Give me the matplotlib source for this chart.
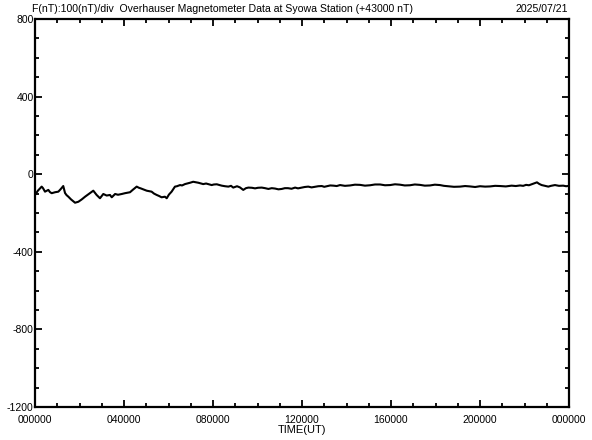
import matplotlib
matplotlib.use("Agg")
import matplotlib.pyplot as plt
from matplotlib.ticker import MultipleLocator

# time in hours (UT) and F minus 43000 nT
hours = [
    0.00, 0.13, 0.30, 0.36, 0.45, 0.60, 0.67, 0.75, 0.90, 1.05, 1.17, 1.27,
    1.35, 1.42, 1.50, 1.62, 1.80, 1.95, 2.10, 2.25, 2.38, 2.47, 2.62, 2.77,
    2.92, 3.07, 3.22, 3.37, 3.45, 3.60, 3.73, 3.90, 4.04, 4.27, 4.40, 4.57,
    4.67, 4.75, 5.02, 5.24, 5.35, 5.47, 5.57, 5.69, 5.84, 5.92, 6.02, 6.14,
    6.29, 6.38, 6.52, 6.61, 6.74, 6.88, 6.97, 7.11, 7.24, 7.34, 7.46, 7.56,
    7.69, 7.79, 7.94, 8.04, 8.17, 8.39, 8.54, 8.69, 8.81, 8.91, 9.08, 9.21,
    9.36, 9.48, 9.59, 9.75, 9.89, 10.02, 10.19, 10.34, 10.49, 10.64, 10.79,
    10.94, 11.09, 11.23, 11.37, 11.53, 11.69, 11.82, 11.96, 12.12, 12.28,
    12.43, 12.58, 12.73, 12.89, 13.00, 13.12, 13.27, 13.41, 13.56, 13.71,
    13.93, 14.16, 14.38, 14.61, 14.83, 15.06, 15.28, 15.51, 15.73, 15.96,
    16.18, 16.40, 16.62, 16.85, 17.07, 17.30, 17.52, 17.75, 17.97, 18.20,
    18.38, 18.56, 18.83, 19.10, 19.33, 19.55, 19.78, 20.00, 20.23, 20.45,
    20.68, 20.90, 21.16, 21.42, 21.61, 21.80, 21.94, 22.07, 22.20, 22.32,
    22.43, 22.56, 22.66, 22.77, 22.92, 23.07, 23.19, 23.37, 23.55, 23.74,
    23.87, 24.00,
]
field = [
    -107, -85, -64, -72, -90, -81, -92, -98, -93, -90, -75, -61,
    -97, -108, -116, -130, -147, -142, -130, -116, -105, -98, -85, -107,
    -124, -102, -110, -107, -119, -102, -106, -102, -98, -93, -80, -64,
    -70, -73, -85, -90, -100, -107, -112, -119, -116, -124, -105, -90,
    -64, -62, -56, -58, -51, -47, -44, -39, -42, -44, -48, -51,
    -48, -51, -56, -53, -52, -59, -62, -64, -60, -69, -62, -68,
    -81, -72, -69, -70, -73, -70, -69, -72, -76, -72, -74,
    -78, -76, -72, -72, -75, -69, -73, -70, -66, -64,
    -68, -65, -62, -61, -65, -62, -58, -59, -61, -56,
    -60, -58, -54, -55, -59, -57, -53, -53, -57, -56,
    -52, -54, -58, -57, -53, -55, -59, -58, -54, -56,
    -60, -62, -65, -64, -61, -63, -66, -62, -64, -63,
    -60, -61, -63, -59, -61, -58, -60, -55, -57, -52,
    -47, -42, -50, -56, -60, -64, -60, -56, -60, -59,
    -62, -60,
]

x_ticks = [0, 4, 8, 12, 16, 20, 24]
x_labels = ["000000", "040000", "080000", "120000", "160000", "200000", "000000"]
y_ticks = [-1200, -800, -400, 0, 400, 800]

font = ["Liberation Sans", "DejaVu Sans"]

fig = plt.figure(figsize=(5.92, 4.40), dpi=100)
ax = fig.add_axes([35 / 592, 33 / 440, 534 / 592, 388 / 440])

ax.plot(hours, field, color="black", linewidth=1.5)

ax.set_xlim(0, 24)
ax.set_ylim(-1200, 800)
ax.set_xticks(x_ticks)
ax.set_xticklabels(x_labels, fontsize=7.5, family=font)
ax.set_yticks(y_ticks)
ax.set_yticklabels([str(v) for v in y_ticks], fontsize=7.5, family=font)
ax.xaxis.set_minor_locator(MultipleLocator(1))
ax.yaxis.set_minor_locator(MultipleLocator(100))

ax.tick_params(which="both", direction="in", top=True, right=True,
               width=1.3, colors="black")
ax.tick_params(which="major", length=5)
ax.tick_params(which="minor", length=3)
ax.tick_params(axis="x", pad=6)
ax.tick_params(axis="y", pad=1)

for s in ax.spines.values():
    s.set_linewidth(1.6)

ax.set_xlabel("TIME(UT)", fontsize=8, family=font, labelpad=0)

fig.text(32 / 592, 1 - 9 / 440,
         "F(nT):100(nT)/div  Overhauser Magnetometer Data at Syowa Station (+43000 nT)",
         fontsize=7.6, family=font, va="center", ha="left")
fig.text(568 / 592, 1 - 9 / 440, "2025/07/21",
         fontsize=7.6, family=font, va="center", ha="right")

fig.savefig("out.png", dpi=100)
